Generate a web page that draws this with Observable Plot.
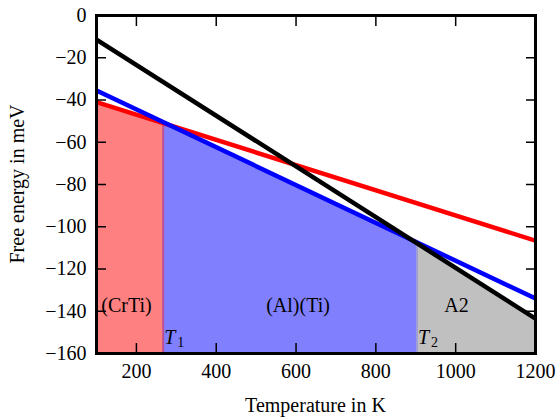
<!DOCTYPE html>
<html>
<head>
<meta charset="utf-8">
<script src="https://cdn.jsdelivr.net/npm/d3@7"></script>
<script src="https://cdn.jsdelivr.net/npm/@observablehq/plot@0.6"></script>
<style>
  html, body { margin: 0; padding: 0; background: #fff; }
  #chart svg { display: block; }
</style>
</head>
<body>
<div id="chart"></div>
<script>
// Line endpoints (temperature in K, free energy in meV)
const lineTemps = [100, 1200];
const redEnergy = [-41, -106.6];
const blueEnergy = [-35.5, -134];
const blackEnergy = [-11.4, -143.5];

// Phase regions
const phaseNames = ["(CrTi)", "(Al)(Ti)", "A2"];
const phaseStart = [100, 267, 903];
const phaseEnd = [267, 903, 1200];
const energyAtStart = [-41, -50.8, -108];
const energyAtEnd = [-50.8, -108, -143.5];
const phaseColors = ["#ff8080", "#8080ff", "#c0c0c0"];

// Phase label positions
const labelTemps = [112, 605, 1002];
const labelEnergy = [-137.3, -137.3, -137.3];
const labelAnchors = ["start", "middle", "middle"];

// Transition temperatures
const transitionNames = ["1", "2"];
const transitionTemps = [267, 903];
const transitionEnergy = [-50.8, -108];
const transitionColors = ["#bf4f8f", "#9f9fd8"];

const xTicks = [200, 400, 600, 800, 1000, 1200];
const yTicks = [0, -20, -40, -60, -80, -100, -120, -140, -160];

const fmt = d => d < 0 ? "\u2212" + (-d) : String(d);
const none = () => "";

const lines = [
  {color: "#ff0000", e: redEnergy},
  {color: "#0000ff", e: blueEnergy},
  {color: "#000000", e: blackEnergy}
];

const areas = phaseNames.map((name, i) => ({
  color: phaseColors[i],
  pts: [{t: phaseStart[i], e: energyAtStart[i]}, {t: phaseEnd[i], e: energyAtEnd[i]}]
}));

const labels = phaseNames.map((n, i) => ({n, t: labelTemps[i], e: labelEnergy[i], a: labelAnchors[i]}));
const trans = transitionNames.map((n, i) => ({n, t: transitionTemps[i], e: transitionEnergy[i], c: transitionColors[i]}));

const marks = [];
areas.forEach(a => {
  marks.push(Plot.areaY(a.pts, {x: "t", y1: -160, y2: "e", fill: a.color, curve: "linear"}));
});
trans.forEach(tr => {
  marks.push(Plot.ruleX([tr], {x: "t", y1: -160, y2: "e", stroke: tr.c, strokeWidth: 2}));
});
lines.forEach(l => {
  marks.push(Plot.line(lineTemps.map((t, i) => ({t, e: l.e[i]})), {x: "t", y: "e", stroke: l.color, strokeWidth: 4.5, clip: true}));
});
labels.forEach(lb => {
  marks.push(Plot.text([lb], {x: "t", y: "e", text: "n", textAnchor: lb.a, fontSize: 20, fill: "black"}));
});
trans.forEach(tr => {
  marks.push(Plot.text([tr], {x: "t", y: -152.3, text: () => "T", textAnchor: "start", dx: 1, fontSize: 20, fontStyle: "italic", fill: "black"}));
  marks.push(Plot.text([tr], {x: "t", y: -152.3, text: "n", textAnchor: "start", dx: 14, dy: 5, fontSize: 14, fill: "black"}));
});

marks.push(Plot.axisX({anchor: "bottom", ticks: xTicks, tickSize: -10, tickPadding: 20, tickFormat: fmt, fontSize: 20, label: null, strokeWidth: 1.5}));
marks.push(Plot.axisX({anchor: "top", ticks: xTicks, tickSize: -10, tickFormat: none, label: null, strokeWidth: 1.5}));
marks.push(Plot.axisY({anchor: "left", ticks: yTicks, tickSize: -10, tickPadding: 20, tickFormat: fmt, fontSize: 20, label: null, strokeWidth: 1.5}));
marks.push(Plot.axisY({anchor: "right", ticks: yTicks, tickSize: -10, tickFormat: none, label: null, strokeWidth: 1.5}));
marks.push(Plot.frame({stroke: "black", strokeWidth: 3}));

const chart = Plot.plot({
  width: 559,
  height: 418,
  marginLeft: 96,
  marginRight: 24,
  marginTop: 15,
  marginBottom: 65,
  x: {domain: [100, 1200]},
  y: {domain: [-160, 0]},
  style: {fontFamily: "'Liberation Serif', 'Times New Roman', serif", fontSize: "20px", color: "black", background: "white", overflow: "visible"},
  marks
});

const svg = d3.select(chart);
svg.append("text")
  .attr("x", (96 + 535) / 2).attr("y", 412)
  .attr("text-anchor", "middle")
  .attr("font-size", 20)
  .attr("fill", "black")
  .text("Temperature in K");
svg.append("text")
  .attr("transform", "translate(24," + ((15 + 353) / 2) + ") rotate(-90)")
  .attr("text-anchor", "middle")
  .attr("font-size", 20)
  .attr("fill", "black")
  .text("Free energy in meV");

document.getElementById("chart").appendChild(chart);
</script>
</body>
</html>
